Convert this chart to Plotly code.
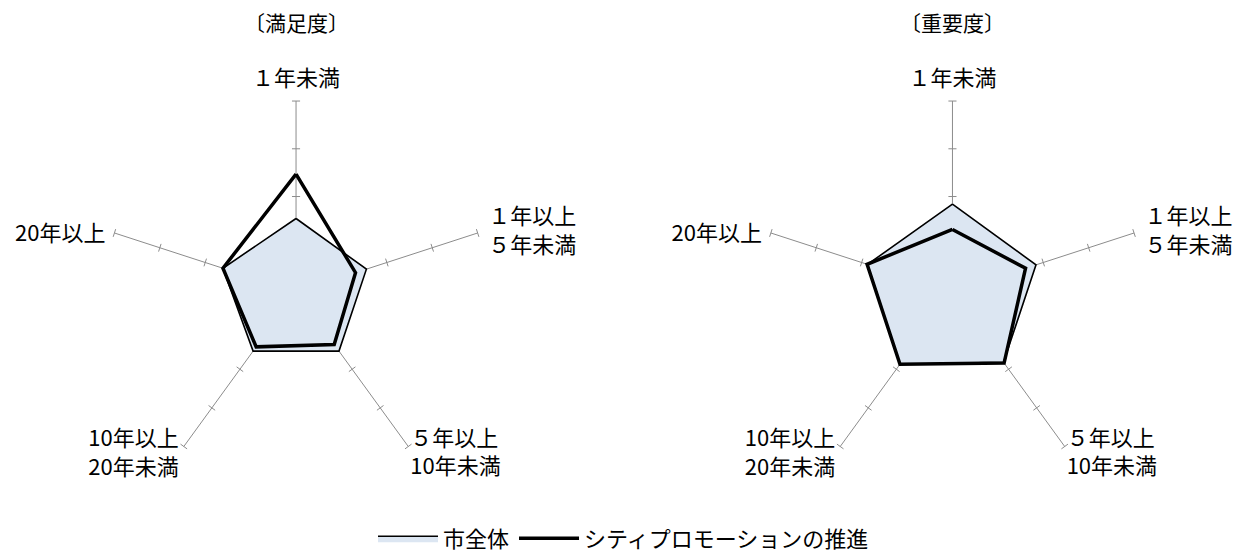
import math
import plotly.graph_objects as go

# --- données ---
categories = ["１年未満", "１年以上<br>５年未満", "５年以上<br>10年未満",
              "10年以上<br>20年未満", "20年以上"]
angles = [0, 72, 144, 216, 288]

satisfaction_total = [1.54, 1.55, 1.53, 1.53, 1.61]
satisfaction_promo = [2.47, 1.31, 1.36, 1.42, 1.61]
importance_total = [1.84, 1.84, 1.82, 1.87, 1.87]
importance_promo = [1.31, 1.61, 1.84, 1.87, 1.88]

tick_steps = [1, 2, 3, 4]
panel_titles = ["〔満足度〕", "〔重要度〕"]
legend_names = ["市全体", "シティプロモーションの推進"]

# placement des étiquettes autour des rayons (ancre du texte)
label_r = [4.42, 4.21, 4.16, 4.21, 4.16]
label_theta = [0, 72.9, 144.9, 215.7, 286.4]
label_pos = ["middle center", "middle right", "middle right", "middle left", "middle left"]

FONT = "Noto Sans CJK JP"
SPOKE = "#8c8c8c"
FILL = "#dce6f2"
R_MAX = 4.6  # marge pour les étiquettes au-delà des rayons

fig = go.Figure()


def closed(vals):
    return list(vals) + [vals[0]]


# rayons + petits traits perpendiculaires
def spokes_and_ticks(half=0.085):
    r_pts, t_pts = [], []
    for a in angles:
        r_pts += [0, tick_steps[-1], None]
        t_pts += [a, a, None]
        for s in tick_steps:
            d = math.degrees(math.atan(half / s))
            rr = math.hypot(s, half)
            r_pts += [rr, rr, None]
            t_pts += [a - d, a + d, None]
    return r_pts, t_pts


panels = [
    ("polar", satisfaction_total, satisfaction_promo, True),
    ("polar2", importance_total, importance_promo, False),
]

for sub, total, promo, show in panels:
    sr, st = spokes_and_ticks()
    fig.add_trace(go.Scatterpolar(
        r=sr, theta=st, mode="lines", subplot=sub,
        line=dict(color=SPOKE, width=1), showlegend=False,
        hoverinfo="skip"
    ))
    fig.add_trace(go.Scatterpolar(
        r=closed(total), theta=closed(angles), mode="lines", subplot=sub,
        fill="toself", fillcolor=FILL, line=dict(color="black", width=1.6),
        name=legend_names[0], showlegend=show, legendgroup="a"
    ))
    fig.add_trace(go.Scatterpolar(
        r=closed(promo), theta=closed(angles), mode="lines", subplot=sub,
        line=dict(color="black", width=3.5),
        name=legend_names[1], showlegend=show, legendgroup="b"
    ))
    fig.add_trace(go.Scatterpolar(
        r=label_r, theta=label_theta, mode="text", subplot=sub,
        text=categories, textposition=label_pos,
        textfont=dict(family=FONT, size=22, color="black"),
        showlegend=False, hoverinfo="skip"
    ))

polar_style = dict(
    bgcolor="white",
    radialaxis=dict(visible=False, range=[0, R_MAX]),
    angularaxis=dict(
        direction="clockwise", rotation=90,
        tickmode="array", tickvals=angles, showticklabels=False,
        showline=False, ticks="", showgrid=False,
    ),
)

# domaines : centre (296, 292) et (952, 292), 4 unités = 191 px
# autoexpand=False : la légende ne doit pas rétrécir la zone de tracé
fig.update_layout(
    width=1247, height=558,
    margin=dict(l=0, r=0, t=0, b=0, autoexpand=False),
    paper_bgcolor="white",
    font=dict(family=FONT, color="black"),
    polar=dict(domain=dict(x=[0.0613, 0.4135], y=[0.0831, 0.8703]), **polar_style),
    polar2=dict(domain=dict(x=[0.5877, 0.9399], y=[0.0831, 0.8703]), **polar_style),
    legend=dict(orientation="h", x=0.5, xanchor="center", y=0.035, yanchor="middle",
                itemwidth=60, font=dict(family=FONT, size=22), traceorder="normal"),
    annotations=[
        dict(text=panel_titles[0], x=0.2374, y=0.9606, xref="paper", yref="paper",
             xanchor="center", yanchor="middle", showarrow=False,
             font=dict(family=FONT, size=21)),
        dict(text=panel_titles[1], x=0.7638, y=0.9606, xref="paper", yref="paper",
             xanchor="center", yanchor="middle", showarrow=False,
             font=dict(family=FONT, size=21)),
    ],
)

fig.write_html("out.html", config={"displayModeBar": False},
               post_script="document.body.style.margin='0';")
